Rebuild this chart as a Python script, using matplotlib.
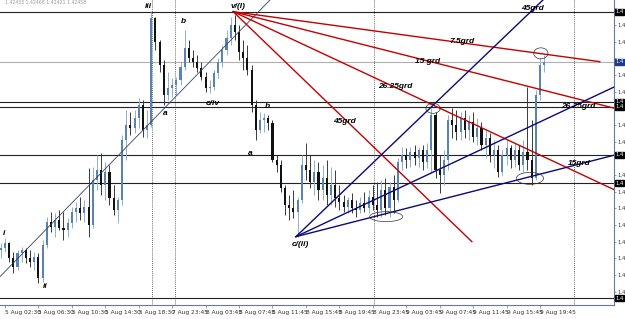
import matplotlib
matplotlib.use("Agg")

import matplotlib.pyplot as plt
import matplotlib.transforms as mtransforms
from matplotlib.patches import Ellipse
import numpy as np

# 30-minute candles, price x 10000 (open = previous close)
first_open = 14185
highs = [
    14189, 14192, 14190, 14184, 14185, 14187, 14186, 14185, 14184, 14183,
    14191, 14205, 14208, 14207, 14209, 14208, 14204, 14211, 14214, 14217,
    14215, 14234, 14235, 14242, 14243, 14238, 14236, 14224, 14217, 14254,
    14269, 14268, 14269, 14276, 14275, 14269, 14328, 14325, 14311, 14299,
    14292, 14288, 14289, 14298, 14317, 14311, 14305, 14302, 14298, 14292,
    14287, 14293, 14300, 14308, 14317, 14325, 14326, 14320, 14311, 14308,
    14296, 14275, 14268, 14267, 14266, 14263, 14242, 14239, 14224, 14218,
    14221, 14217, 14242, 14249, 14242, 14239, 14238, 14236, 14239, 14235,
    14233, 14224, 14218, 14217, 14219, 14215, 14217, 14220, 14221, 14224,
    14226, 14227, 14228, 14226, 14230, 14240, 14247, 14246, 14247, 14248,
    14247, 14248, 14249, 14270, 14268, 14242, 14245, 14266, 14270, 14269,
    14268, 14269, 14266, 14268, 14264, 14262, 14257, 14255, 14251, 14248,
    14245, 14251, 14248, 14249, 14248, 14251, 14283, 14263, 14281, 14300,
    14302,
]
lows = [
    14180, 14184, 14178, 14171, 14173, 14178, 14177, 14175, 14173, 14165,
    14166, 14186, 14196, 14193, 14197, 14191, 14193, 14198, 14202, 14203,
    14202, 14193, 14198, 14221, 14218, 14215, 14212, 14206, 14201, 14212,
    14239, 14254, 14255, 14258, 14253, 14252, 14259, 14305, 14292, 14272,
    14275, 14277, 14278, 14284, 14293, 14298, 14295, 14292, 14287, 14280,
    14279, 14281, 14288, 14295, 14302, 14308, 14311, 14299, 14293, 14290,
    14268, 14251, 14255, 14256, 14257, 14238, 14232, 14220, 14206, 14203,
    14204, 14193, 14213, 14227, 14222, 14218, 14215, 14215, 14212, 14212,
    14211, 14209, 14208, 14207, 14207, 14205, 14207, 14208, 14207, 14209,
    14205, 14205, 14206, 14205, 14207, 14214, 14233, 14234, 14235, 14236,
    14235, 14233, 14234, 14231, 14228, 14219, 14224, 14233, 14252, 14251,
    14251, 14252, 14251, 14250, 14248, 14245, 14240, 14238, 14234, 14229,
    14230, 14236, 14234, 14235, 14233, 14232, 14233, 14224, 14227, 14275,
    14292,
]
closes = [
    14186, 14189, 14180, 14175, 14183, 14185, 14180, 14178, 14181, 14168,
    14188, 14202, 14199, 14203, 14198, 14197, 14201, 14208, 14210, 14207,
    14211, 14200, 14227, 14233, 14224, 14232, 14216, 14209, 14215, 14251,
    14260, 14258, 14264, 14272, 14257, 14260, 14324, 14310, 14296, 14278,
    14282, 14284, 14287, 14295, 14306, 14300, 14298, 14294, 14289, 14282,
    14283, 14291, 14298, 14305, 14312, 14320, 14316, 14304, 14300, 14293,
    14272, 14257, 14263, 14264, 14261, 14239, 14236, 14222, 14212, 14210,
    14208, 14215, 14236, 14233, 14226, 14232, 14221, 14228, 14218, 14224,
    14216, 14214, 14211, 14215, 14210, 14209, 14213, 14210, 14217, 14212,
    14209, 14221, 14210, 14223, 14215, 14238, 14242, 14239, 14244, 14240,
    14245, 14238, 14245, 14266, 14233, 14230, 14239, 14263, 14260, 14256,
    14264, 14257, 14262, 14253, 14258, 14248, 14252, 14242, 14245, 14232,
    14242, 14246, 14239, 14245, 14236, 14244, 14239, 14228, 14278, 14296,
    14298,
]

time_labels = ["5 Aug 02:30", "5 Aug 06:30", "5 Aug 10:30", "5 Aug 14:30",
               "5 Aug 18:30", "7 Aug 23:45", "8 Aug 03:45", "8 Aug 07:45",
               "8 Aug 11:45", "8 Aug 15:45", "8 Aug 19:45", "8 Aug 23:45",
               "9 Aug 03:45", "9 Aug 07:45", "9 Aug 11:45", "9 Aug 15:45",
               "9 Aug 19:45"]
time_ticks = [1 + 8 * k for k in range(len(time_labels))]

# horizontal levels and period separators
levels = [1.4328, 1.4274, 1.4271, 1.4242, 1.4225, 1.4156]
bid_level = 1.4298
separators = [36.2, 41.7, 89.3, 137.1]

# wave counts (candle index, price, text)
wave_labels = [(35.2, 1.4331, "iii"), (43.8, 1.4322, "b"), (56.7, 1.4331, "v/(I)"),
               (39.3, 1.4267, "a"), (50.8, 1.4273, "c/iv"), (63.9, 1.4271, "b"),
               (59.6, 1.4243, "a"), (0.8, 1.4195, "i"), (10.6, 1.4163, "ii"),
               (71.6, 1.4188, "c/(ii)")]

# fan from v/(I) top
red_anchor = (55.6, 1.4328)
red_ends = [(143.3, 1.4298), (146.9, 1.4270), (146.9, 1.4221), (112.7, 1.4190)]
red_labels = [(110.3, 1.4310, "7.5grd"), (102.0, 1.4298, "15 grd"),
              (94.3, 1.4283, "26.25grd"), (82.3, 1.4262, "45grd")]

# fan from c/(ii) low
blue_anchor = (70.6, 1.4193)
blue_ends = [(129.7, 1.4335), (146.9, 1.4283), (146.9, 1.4242)]
blue_labels = [(127.3, 1.4330, "45grd"), (138.1, 1.4271, "26.25grd"),
               (138.3, 1.4237, "15grd")]

trend_line = [(-0.2, 1.4169), (64.4, 1.4335)]

# circled touches (center x, center price, width, height)
circles = [(129.2, 1.4303, 3.4, 0.00066), (103.4, 1.4270, 3.4, 0.0006),
           (92.2, 1.4205, 7.9, 0.0006), (126.6, 1.4228, 6.5, 0.00072)]

hi = np.array(highs) / 10000
lo = np.array(lows) / 10000
cl = np.array(closes) / 10000
op = np.concatenate([[first_open / 10000], cl[:-1]])
x = np.arange(len(cl))

fig = plt.figure(figsize=(6.25, 3.19), dpi=100)
ax = fig.add_axes([0, 14 / 319, 614 / 625, 305 / 319])
ax.set_xlim(-0.19, 146.7)
ax.set_ylim(1.4152, 1.4335)

for lv in levels:
    ax.axhline(lv, color="#222222", lw=0.8, zorder=1)
ax.axhline(bid_level, color="#b0b0b0", lw=0.8, zorder=1)
for s in separators:
    ax.axvline(s, color="#333333", lw=0.6, ls=(0, (1, 1.5)), zorder=1)

# candles
bull = cl >= op
wick_col = np.where(bull, "#8fb0d2", "#3a3a3a")
body_col = np.where(bull, "#5784b5", "#111111")
ax.vlines(x, lo, hi, colors=wick_col, lw=0.7, zorder=2)
body = np.where(np.abs(cl - op) < 0.00003, 0.00003, cl - op)
ax.bar(x, body, bottom=op, width=0.5, color=body_col, linewidth=0, zorder=2)

# trend lines
ax.plot([p[0] for p in trend_line], [p[1] for p in trend_line],
        color="#34406a", lw=0.6, zorder=3)
for ex, ey in red_ends:
    ax.plot([red_anchor[0], ex], [red_anchor[1], ey], color="#c40000", lw=1.0, zorder=3)
for ex, ey in blue_ends:
    ax.plot([blue_anchor[0], ex], [blue_anchor[1], ey], color="#0a0a78", lw=1.0, zorder=3)

for cx, cy, w, h in circles:
    ax.add_patch(Ellipse((cx, cy), w, h, fill=False, ec="#333333", lw=0.5, zorder=4))

lab_font = dict(family="Liberation Sans", style="italic", weight="bold",
                fontsize=6, color="black", ha="center", va="center", zorder=5)
for lx, ly, t in wave_labels + red_labels + blue_labels:
    ax.text(lx, ly, t, **lab_font)

# axes look
for side in ["left", "top"]:
    ax.spines[side].set_visible(False)
for side in ["right", "bottom"]:
    ax.spines[side].set_color("#6a7898")
    ax.spines[side].set_linewidth(0.8)

ax.set_xticks(time_ticks)
ax.set_xticklabels(time_labels, fontsize=4.2, color="#333333", ha="left")
ax.tick_params(axis="x", length=2, width=0.5, pad=1.5, color="#6a7898")

# price scale: only the leading "1.4" of each label fits in the picture;
# ticks hidden behind a level box get no label of their own
boxed = levels + [bid_level]
ax.yaxis.tick_right()
yt = np.round(np.arange(1.4330, 1.4155, -0.001), 4)
ax.set_yticks(yt)
ax.set_yticklabels(["" if min(abs(v - b) for b in boxed) < 0.00035 else "1.4"
                    for v in yt], fontsize=3.8, color="#333333")
ax.tick_params(axis="y", length=1.5, width=0.5, pad=1, color="#6a7898")

trans = mtransforms.blended_transform_factory(ax.transAxes, ax.transData)
for lv in levels:
    ax.text(1.002, lv, "1.4", transform=trans, fontsize=3.8, color="white",
            va="center", ha="left", clip_on=False, zorder=6,
            bbox=dict(boxstyle="square,pad=0.1", fc="black", ec="black"))
ax.text(1.002, bid_level, "1.4", transform=trans, fontsize=3.8,
        color="white", va="center", ha="left", clip_on=False, zorder=6,
        bbox=dict(boxstyle="square,pad=0.1", fc="#1c3a8c", ec="#1c3a8c"))

# chart header (only a sliver shows above the plot)
fig.text(0.008, 0.999, "1.42433 1.42468 1.42421 1.42458", fontsize=3.3,
         color="#9a9a9a", va="top", ha="left")

fig.savefig("out.png", dpi=100)
